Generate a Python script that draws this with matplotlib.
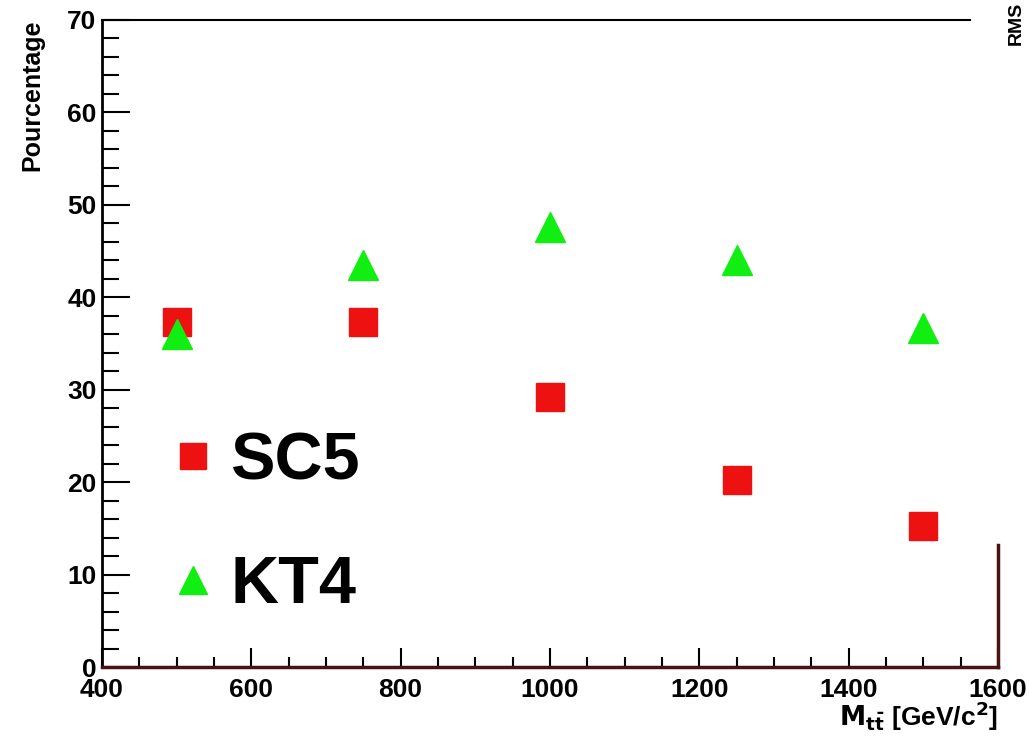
import matplotlib
matplotlib.use("Agg")
import matplotlib.pyplot as plt
from matplotlib.lines import Line2D
from matplotlib.ticker import MultipleLocator

plt.rcParams['font.family'] = ['Liberation Sans', 'DejaVu Sans']

# values
mass = [500, 750, 1000, 1250, 1500]
sc5 = [37.3, 37.3, 29.2, 20.2, 15.3]
kt4 = [36.0, 43.5, 47.6, 44.0, 36.7]
series_names = ["SC5", "KT4"]

red = "#ee1111"
green = "#11ee11"
maroon = "#4a1212"

fig = plt.figure(figsize=(10.29, 7.38), dpi=100)
ax = fig.add_axes([0.0991, 0.0962, 0.8707, 0.8767])

ax.plot(mass, sc5, linestyle='none', marker='s', markersize=20,
        color=red, markeredgecolor=red, zorder=3)
ax.plot(mass, kt4, linestyle='none', marker='^', markersize=21,
        color=green, markeredgecolor=green, zorder=4)

ax.set_xlim(400, 1600)
ax.set_ylim(0, 70)
ax.xaxis.set_major_locator(MultipleLocator(200))
ax.xaxis.set_minor_locator(MultipleLocator(50))
ax.yaxis.set_major_locator(MultipleLocator(10))
ax.yaxis.set_minor_locator(MultipleLocator(2))

ax.tick_params(axis='x', which='major', direction='in', length=14, width=1.5,
               labelsize=19, pad=8)
ax.tick_params(axis='x', which='minor', direction='in', length=7, width=1.5)
ax.tick_params(axis='y', which='major', direction='in', length=20, width=1.5,
               labelsize=19, pad=4)
ax.tick_params(axis='y', which='minor', direction='in', length=12, width=1.5)
for lab in ax.get_xticklabels() + ax.get_yticklabels():
    lab.set_fontweight('bold')

# frame: partly hidden by a stats box in the original
ax.spines['left'].set_color('black')
ax.spines['left'].set_linewidth(2)
ax.spines['bottom'].set_color(maroon)
ax.spines['bottom'].set_linewidth(2.5)
ax.spines['right'].set_color(maroon)
ax.spines['right'].set_linewidth(2.5)
ax.spines['right'].set_bounds(0, 13.2)
ax.spines['top'].set_color('black')
ax.spines['top'].set_linewidth(1.5)
ax.spines['top'].set_bounds(400, 1562)

ax.set_ylabel("Pourcentage", fontsize=18, fontweight='bold', loc='top', labelpad=16)
ax.set_xlabel(r"$\mathbf{M_{t\bar{t}}}$ [GeV/c$^{\mathbf{2}}$]", fontsize=19,
              fontweight='bold', loc='right', labelpad=-2)

handles = [
    Line2D([], [], linestyle='none', marker='s', markersize=19, color=red),
    Line2D([], [], linestyle='none', marker='^', markersize=20, color=green),
]
ax.legend(handles, series_names, loc='upper left', bbox_to_anchor=(0.05, 0.405),
          frameon=False, prop={'weight': 'bold', 'size': 48},
          handlelength=0.6, handletextpad=0.25, labelspacing=0.92,
          borderaxespad=0)

fig.text(0.988, 0.997, "RMS", rotation=90, ha='center', va='top',
         fontsize=14, fontweight='bold')

fig.savefig("out.png", dpi=100, facecolor='white')
